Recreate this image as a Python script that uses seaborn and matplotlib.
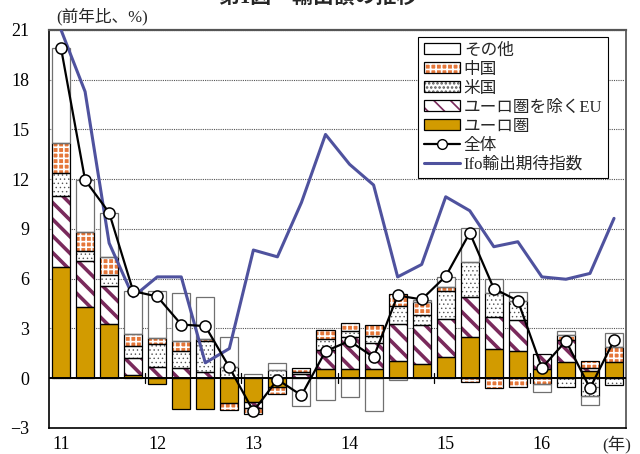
"""Export growth by destination (stacked contributions) with Ifo export expectations."""

import matplotlib

matplotlib.use("Agg")

import matplotlib.pyplot as plt
import numpy as np
import pandas as pd
import seaborn as sns
from matplotlib.lines import Line2D
from matplotlib.patches import Patch
from matplotlib.transforms import blended_transform_factory

# quarterly, 2011Q1 .. 2016Q4
quarters = [f"{y}Q{q}" for y in range(11, 17) for q in range(1, 5)]
year_labels = ["11", "12", "13", "14", "15", "16"]

euro = [6.68, 4.30, 3.30, 0.18, -0.32, -1.87, -1.83, -1.49, -1.43, -0.55, 0.0, 0.58,
        0.58, 0.58, 1.05, 0.88, 1.29, 2.49, 1.79, 1.63, 0.54, 0.98, 0.45, 0.98]
eu_ex_euro = [4.30, 2.76, 2.25, 1.01, 0.68, 0.62, 0.38, 0.0, -0.34, 0.0, 0.26, 1.15,
              1.88, 1.55, 2.21, 2.30, 2.27, 2.42, 1.91, 1.91, 0.95, 1.33, 0.17, 0.0]
usa = [1.37, 0.62, 0.67, 0.78, 1.41, 1.01, 1.87, 0.68, 0.0, 0.48, 0.12, 0.62,
       0.38, 0.40, 1.09, 0.66, 1.69, 2.11, 1.45, 1.11, 0.0, -0.55, -1.09, -0.42]
china = [1.81, 1.11, 1.10, 0.69, 0.36, 0.62, 0.10, -0.40, -0.40, -0.42, 0.26, 0.55,
         0.52, 0.71, 0.72, 0.76, 0.26, -0.22, -0.56, -0.52, -0.32, 0.28, 0.43, 0.91]
other = [5.74, 3.16, 2.66, 2.59, 2.82, 2.86, 2.55, 1.83, 0.24, 0.45, -1.69, -1.33,
         -1.13, -1.99, -0.08, 0.11, 0.60, 2.01, 0.82, 0.54, -0.54, 0.25, -0.54, 0.85]
total = [19.9, 11.95, 9.98, 5.25, 4.93, 3.24, 3.14, 0.66, -1.99, -0.08, -1.03, 1.63,
         2.25, 1.27, 4.99, 4.75, 6.15, 8.77, 5.41, 4.67, 0.62, 2.25, -0.60, 2.29]
ifo = [21.0, 17.28, 8.15, 4.91, 6.11, 6.11, 0.93, 1.79, 7.73, 7.32, 10.6, 14.7,
       12.9, 11.65, 6.11, 6.86, 10.94, 10.1, 7.93, 8.23, 6.11, 5.97, 6.32, 9.64]

ORANGE = "#E5773A"
GOLD = "#D29B00"
PURPLE = "#7A2A5C"
BLUE = "#4F529E"

# (label, values, face, hatch colour, hatch, hatch linewidth, outline) - bottom of stack first
layers = [
    ("ユーロ圏", euro, GOLD, GOLD, None, 1.0, "black"),
    ("ユーロ圏を除くEU", eu_ex_euro, "white", PURPLE, "\\\\", 2.6, "black"),
    ("米国", usa, "white", "#555555", "....", 0.5, "black"),
    ("中国", china, ORANGE, "white", "+++", 1.2, "black"),
    ("その他", other, "white", "white", None, 1.0, "#707070"),
]

sns.set_theme(style="white")
plt.rcParams["font.family"] = ["Liberation Serif", "Noto Sans CJK JP", "DejaVu Sans"]
plt.rcParams["hatch.linewidth"] = 1.2

fig = plt.figure(figsize=(6.4, 4.54), dpi=100)
ax = fig.add_axes([0.0766, 0.0573, 0.9016, 0.8767])

x = np.arange(len(quarters))
pos_base = np.zeros(len(x))
neg_base = np.zeros(len(x))
handles = {}
for label, vals, face, hcol, hatch, hlw, outline in layers:
    v = np.asarray(vals, dtype=float)
    keep = v != 0
    bottom = np.where(v >= 0, pos_base, neg_base)
    with plt.rc_context({"hatch.linewidth": hlw}):
        fill = ax.bar(x[keep], v[keep], width=0.75, bottom=bottom[keep], color=face,
                      edgecolor=hcol, hatch=hatch, linewidth=0, zorder=2)
    for p in fill:
        if hasattr(p, "set_hatch_linewidth"):
            p.set_hatch_linewidth(hlw)
    ax.bar(x[keep], v[keep], width=0.75, bottom=bottom[keep], fill=False,
           edgecolor=outline, linewidth=0.9, zorder=3)
    pos_base += np.clip(v, 0, None)
    neg_base += np.clip(v, None, 0)
    with plt.rc_context({"hatch.linewidth": hlw}):
        h_fill = Patch(facecolor=face, edgecolor=hcol, hatch=hatch, linewidth=0)
    if hasattr(h_fill, "set_hatch_linewidth"):
        h_fill.set_hatch_linewidth(hlw)
    handles[label] = (h_fill, Patch(fill=False, edgecolor="black", linewidth=0.9))

frame = pd.DataFrame({"x": x, "total": total, "ifo": ifo})
sns.lineplot(data=frame, x="x", y="ifo", color=BLUE, linewidth=2.2, ax=ax, zorder=4)
sns.lineplot(data=frame, x="x", y="total", color="black", linewidth=1.6, marker="o",
             markersize=8, markerfacecolor="white", markeredgecolor="black",
             markeredgewidth=1.1, ax=ax, zorder=5)

ax.axhline(0, color="black", linewidth=1.4, zorder=3.5)
# small year separators on the zero line
for xb in x[3:-1:4] + 0.5:
    ax.plot([xb, xb], [-0.3, 0.3], color="black", linewidth=0.9, zorder=3.5)

ax.set_xlim(-0.5, len(x) - 0.5)
ax.set_ylim(-3, 21)
ax.set_yticks(np.arange(-3, 22, 3))
ax.set_xticks(x[::4])
ax.set_xticklabels(year_labels)
ax.tick_params(axis="both", length=0, labelsize=13, colors="black")
ax.tick_params(axis="y", pad=14)
ax.tick_params(axis="x", pad=6)
ax.set_xlabel("")
ax.set_ylabel("")
ax.yaxis.grid(True, linestyle=(0, (1, 1)), color="#555555", linewidth=0.8)
ax.set_axisbelow(True)
for side in ["left", "bottom"]:
    ax.spines[side].set_color("black")
    ax.spines[side].set_linewidth(1.2)
ax.spines["top"].set_color("#555555")
ax.spines["top"].set_linewidth(1.6)
ax.spines["right"].set_color("#666666")
ax.spines["right"].set_linewidth(1.4)

trans = blended_transform_factory(ax.transData, ax.transAxes)
ax.text(x[-1] + 0.1, -0.018, "(年)", transform=trans, ha="center", va="top", fontsize=12.5)
ax.text(0.012, 1.012, "(前年比、%)", transform=ax.transAxes, ha="left", va="bottom",
        fontsize=12)
fig.text(0.497, 1.005, "第1図　輸出額の推移", ha="center", va="center", fontsize=15,
         fontweight="bold")

legend_handles = [handles["その他"], handles["中国"], handles["米国"],
                  handles["ユーロ圏を除くEU"], handles["ユーロ圏"],
                  Line2D([], [], color="black", linewidth=1.6, marker="o", markersize=7,
                         markerfacecolor="white", markeredgecolor="black"),
                  Line2D([], [], color=BLUE, linewidth=2.2)]
legend_labels = ["その他", "中国", "米国", "ユーロ圏を除くEU", "ユーロ圏", "全体",
                 "Ifo輸出期待指数"]
leg = ax.legend(legend_handles, legend_labels, loc="upper right",
                bbox_to_anchor=(0.969, 0.983), borderaxespad=0, fontsize=12,
                frameon=True, fancybox=False, framealpha=1, edgecolor="black",
                handlelength=2.2, handletextpad=0.2, labelspacing=0.18,
                borderpad=0.35, handleheight=0.6)
leg.get_frame().set_linewidth(0.8)
leg.set_zorder(6)

fig.savefig("out.png", dpi=100)
